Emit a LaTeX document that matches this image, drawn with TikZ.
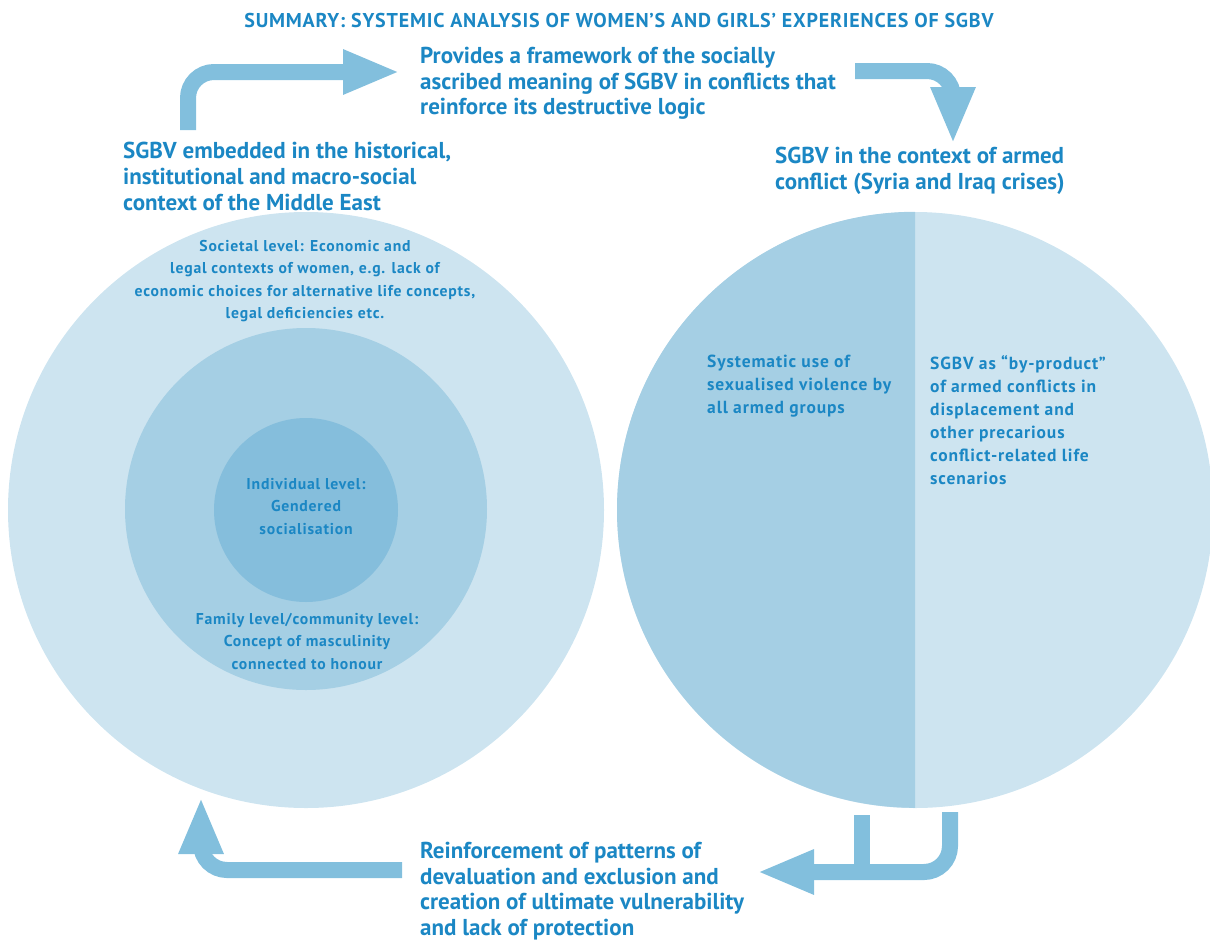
\documentclass[tikz,border=0pt]{standalone}
\usepackage{fontspec}
\setmainfont{PT Sans}
\newfontfamily\titlefont[LetterSpace=4]{PT Sans}
\newfontfamily\smallfont[LetterSpace=5]{PT Sans}
\usetikzlibrary{arrows.meta,positioning}
\definecolor{txtblue}{HTML}{1B87C4}
\definecolor{ringout}{HTML}{CDE4F0}
\definecolor{ringmid}{HTML}{A5CFE4}
\definecolor{ringin}{HTML}{85BEDC}
\definecolor{arrowblue}{HTML}{82BFDD}
\tikzset{
  ring/.style={circle,inner sep=0pt,fill=#1},
  bigtext/.style={font=\bfseries\fontsize{23}{25.7}\selectfont,text=txtblue,align=left,anchor=north west,inner sep=0pt},
  ringtext/.style={font=\smallfont\bfseries\fontsize{15.7}{22.5}\selectfont,text=txtblue,align=center,anchor=north,inner sep=0pt},
  halftext/.style={font=\smallfont\bfseries\fontsize{17.5}{23}\selectfont,text=txtblue,align=left,anchor=north west,inner sep=0pt},
  flow/.style={line width=16pt,draw=arrowblue,rounded corners=26pt,-{Triangle[length=57pt,width=41pt]}}
}
\begin{document}
\begin{tikzpicture}[x=1pt,y=-1pt]
\useasboundingbox (0,0) rectangle (1210,940);
\node[font=\titlefont\bfseries\fontsize{20}{24}\selectfont,text=txtblue,anchor=base,inner sep=0pt] (title) at (619,27)
  {SUMMARY: SYSTEMIC ANALYSIS OF WOMEN’S AND GIRLS’ EXPERIENCES OF SGBV};
% left circle: three levels
\node[ring=ringout,minimum size=596pt] (outer) at (306,510) {};
\node[ring=ringmid,minimum size=362pt] (middle) at (306,509) {};
\node[ring=ringin,minimum size=184pt] (inner) at (306,510) {};
\node[ringtext] (societal) at (305,240) {Societal level: Economic and\\legal contexts of women, e.g. lack of\\economic choices for alternative life concepts,\\legal deficiencies etc.};
\node[ringtext] (individual) at (306,478) {Individual level:\\Gendered\\socialisation};
\node[ringtext] (family) at (307,613) {Family level/community level:\\Concept of masculinity\\connected to honour};
% right circle: two halves
\node[ring=ringout,minimum size=596pt] (conflict) at (915,510) {};
\fill[ringmid] (conflict.north) arc[start angle=90,end angle=270,radius=298pt] -- cycle;
\node[halftext] (systematic) at (707,355) {Systematic use of\\sexualised violence by\\all armed groups};
\node[halftext] (byproduct) at (930,355) {SGBV as “by-product”\\of armed conflicts in\\displacement and\\other precarious\\conflict-related life\\scenarios};
% outer texts
\node[bigtext] (embedded) at (123,142) {SGBV embedded in the historical,\\institutional and macro-social\\context of the Middle East};
\node[bigtext] (framework) at (420,47) {Provides a framework of the socially\\ascribed meaning of SGBV in conflicts that\\reinforce its destructive logic};
\node[bigtext] (context) at (775,147) {SGBV in the context of armed\\conflict (Syria and Iraq crises)};
\node[bigtext] (reinforce) at (420,842) {Reinforcement of patterns of\\devaluation and exclusion and\\creation of ultimate vulnerability\\and lack of protection};
% arrows
\coordinate (a1) at (188,130);
\coordinate (a2) at (855,71);
\coordinate (a3) at (950,812);
\coordinate (a4) at (402,870);
\draw[flow] (a1) |- (400,72);
\draw[flow] (a2) -| (953,144);
\draw[flow] (a3) |- (757,872);
\draw[line width=16pt,draw=arrowblue] (862,815) -- (862,864);
\draw[flow] (a4) -| (201,797);
\end{tikzpicture}
\end{document}
